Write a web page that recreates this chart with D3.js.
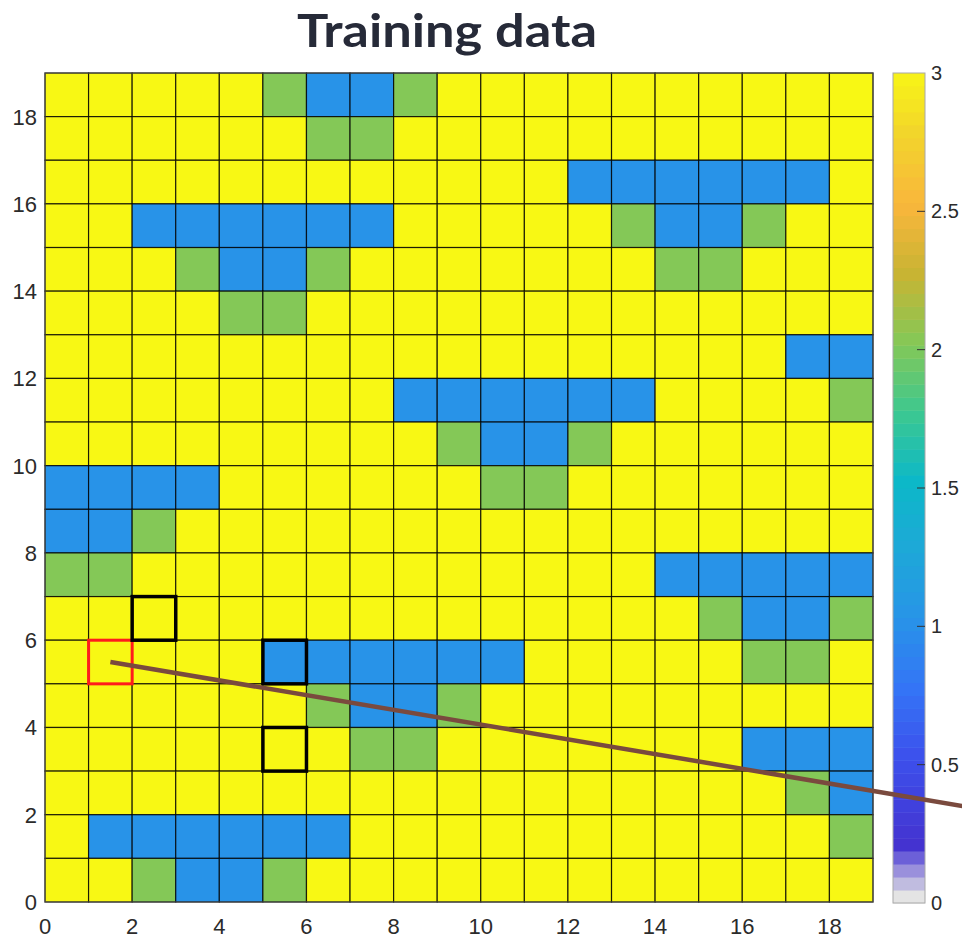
<!DOCTYPE html>
<html>
<head>
<meta charset="utf-8">
<script src="https://cdn.jsdelivr.net/npm/d3@7"></script>
<style>
  html, body { margin: 0; padding: 0; background: #fff; }
  svg { display: block; }
  .tick-label { font-family: "Liberation Sans", Arial, Helvetica, sans-serif; fill: #2b2b2b; }
</style>
</head>
<body>
<svg id="chart" width="962" height="939"></svg>
<script>
// Grid values, one row per y level from the top row (y = 18) down to y = 0.
const cellRows = [
  [3,3,3,3,3,2,1,1,2,3,3,3,3,3,3,3,3,3,3],
  [3,3,3,3,3,3,2,2,3,3,3,3,3,3,3,3,3,3,3],
  [3,3,3,3,3,3,3,3,3,3,3,3,1,1,1,1,1,1,3],
  [3,3,1,1,1,1,1,1,3,3,3,3,3,2,1,1,2,3,3],
  [3,3,3,2,1,1,2,3,3,3,3,3,3,3,2,2,3,3,3],
  [3,3,3,3,2,2,3,3,3,3,3,3,3,3,3,3,3,3,3],
  [3,3,3,3,3,3,3,3,3,3,3,3,3,3,3,3,3,1,1],
  [3,3,3,3,3,3,3,3,1,1,1,1,1,1,3,3,3,3,2],
  [3,3,3,3,3,3,3,3,3,2,1,1,2,3,3,3,3,3,3],
  [1,1,1,1,3,3,3,3,3,3,2,2,3,3,3,3,3,3,3],
  [1,1,2,3,3,3,3,3,3,3,3,3,3,3,3,3,3,3,3],
  [2,2,3,3,3,3,3,3,3,3,3,3,3,3,1,1,1,1,1],
  [3,3,3,3,3,3,3,3,3,3,3,3,3,3,3,2,1,1,2],
  [3,3,3,3,3,1,1,1,1,1,1,3,3,3,3,3,2,2,3],
  [3,3,3,3,3,3,2,1,1,2,3,3,3,3,3,3,3,3,3],
  [3,3,3,3,3,3,3,2,2,3,3,3,3,3,3,3,1,1,1],
  [3,3,3,3,3,3,3,3,3,3,3,3,3,3,3,3,3,2,1],
  [3,1,1,1,1,1,1,3,3,3,3,3,3,3,3,3,3,3,2],
  [3,3,2,1,1,2,3,3,3,3,3,3,3,3,3,3,3,3,3]
];

// Highlighted cells (lower-left corner of each cell).
const startCell = [[1, 5]];
const markedCells = [[2, 6], [5, 5], [5, 3]];

// Path segment drawn across the grid.
const pathPoints = [[1.5, 5.5], [22, 2.04]];

// Tick values.
const xTicks = [0, 2, 4, 6, 8, 10, 12, 14, 16, 18];
const yTicks = [0, 2, 4, 6, 8, 10, 12, 14, 16, 18];
const cbarTicks = [0, 0.5, 1, 1.5, 2, 2.5, 3];

// Colormap stops (value -> colour), 64 levels over 0..3.
const cmapStops  = [0, 0.046875, 0.09375, 0.140625, 0.1875, 0.5, 0.75, 1, 1.25, 1.5, 1.75, 2, 2.25, 2.5, 2.75, 3];
const cmapColors = ["#e4e4e4","#c0bce0","#9a90dc","#6c60d8","#4433d0","#3c50ec","#3474f6","#2893e8","#1ea8d8","#0cb8c8","#3cc890","#84c857","#c8b433","#f9b63c","#f2d42c","#f8f814"];
const cmapLevels = 64;

const svg = d3.select("#chart");
const plot = { left: 45, top: 73, right: 873, bottom: 902 };
const nCols = cellRows[0].length, nRows = cellRows.length;

const x = d3.scaleLinear().domain([0, nCols]).range([plot.left, plot.right]);
const y = d3.scaleLinear().domain([0, nRows]).range([plot.bottom, plot.top]);
const color = d3.scaleLinear().domain(cmapStops).range(cmapColors).clamp(true);

const cells = [];
cellRows.forEach((row, i) => {
  const yv = nRows - 1 - i;
  row.forEach((v, xv) => cells.push({ x: xv, y: yv, v }));
});

// Heat-map cells
svg.append("g")
  .selectAll("rect")
  .data(cells)
  .join("rect")
  .attr("x", d => x(d.x))
  .attr("y", d => y(d.y + 1))
  .attr("width", d => x(d.x + 1) - x(d.x))
  .attr("height", d => y(d.y) - y(d.y + 1))
  .attr("fill", d => color(d.v))
  .attr("stroke", "#000")
  .attr("stroke-opacity", 0.8)
  .attr("stroke-width", 1.2);

// Axes box
svg.append("rect")
  .attr("x", plot.left).attr("y", plot.top)
  .attr("width", plot.right - plot.left).attr("height", plot.bottom - plot.top)
  .attr("fill", "none").attr("stroke", "#4a4a4a").attr("stroke-width", 1);

// Tick labels
const axisSize = 22;
svg.append("g")
  .selectAll("text")
  .data(xTicks)
  .join("text")
  .attr("class", "tick-label")
  .attr("x", d => x(d))
  .attr("y", plot.bottom + 32)
  .attr("text-anchor", "middle")
  .attr("font-size", axisSize)
  .text(d => d);

svg.append("g")
  .selectAll("text")
  .data(yTicks)
  .join("text")
  .attr("class", "tick-label")
  .attr("x", plot.left - 8)
  .attr("y", d => y(d) + 8)
  .attr("text-anchor", "end")
  .attr("font-size", axisSize)
  .text(d => d);

// Highlighted cells
function outline(list, stroke, width) {
  svg.append("g")
    .selectAll("rect")
    .data(list)
    .join("rect")
    .attr("x", d => x(d[0]))
    .attr("y", d => y(d[1] + 1))
    .attr("width", d => x(d[0] + 1) - x(d[0]))
    .attr("height", d => y(d[1]) - y(d[1] + 1))
    .attr("fill", "none")
    .attr("stroke", stroke)
    .attr("stroke-width", width);
}
outline(startCell, "#ff1c1c", 3);
outline(markedCells, "#000", 3.5);

// Colour bar
const cb = { left: 893, right: 925 };
const cbY = d3.scaleLinear().domain([0, 3]).range([plot.bottom + 1, plot.top]);
const levelStep = 3 / cmapLevels;
const levels = d3.range(cmapLevels).map(i => i * levelStep);
svg.append("g")
  .selectAll("rect")
  .data(levels)
  .join("rect")
  .attr("x", cb.left)
  .attr("y", d => cbY(d + levelStep))
  .attr("width", cb.right - cb.left)
  .attr("height", d => cbY(d) - cbY(d + levelStep) + 0.5)
  .attr("fill", d => color(d));
svg.append("rect")
  .attr("x", cb.left).attr("y", cbY(3))
  .attr("width", cb.right - cb.left).attr("height", cbY(0) - cbY(3))
  .attr("fill", "none").attr("stroke", "#a8a8a8").attr("stroke-width", 1);

const cbTickG = svg.append("g")
  .selectAll("g")
  .data(cbarTicks)
  .join("g")
  .attr("transform", d => `translate(0,${cbY(d)})`);
cbTickG.filter(d => d > 0 && d < 3).append("line")
  .attr("x1", cb.right - 8).attr("x2", cb.right)
  .attr("stroke", "#333").attr("stroke-width", 1);
cbTickG.append("text")
  .attr("class", "tick-label")
  .attr("x", cb.right + 6)
  .attr("y", 7)
  .attr("font-size", 20)
  .text(d => d);

// Path line
svg.append("path")
  .datum(pathPoints)
  .attr("d", d3.line().x(d => x(d[0])).y(d => y(d[1])))
  .attr("fill", "none")
  .attr("stroke", "#7a4a3e")
  .attr("stroke-width", 4.5);

// Title
svg.append("text")
  .attr("x", 447)
  .attr("y", 47)
  .attr("text-anchor", "middle")
  .attr("font-family", "Lato, 'Open Sans', sans-serif")
  .attr("font-weight", 700)
  .attr("font-size", 46)
  .attr("textLength", 300)
  .attr("lengthAdjust", "spacingAndGlyphs")
  .attr("fill", "#262a38")
  .text("Training data");
</script>
</body>
</html>
